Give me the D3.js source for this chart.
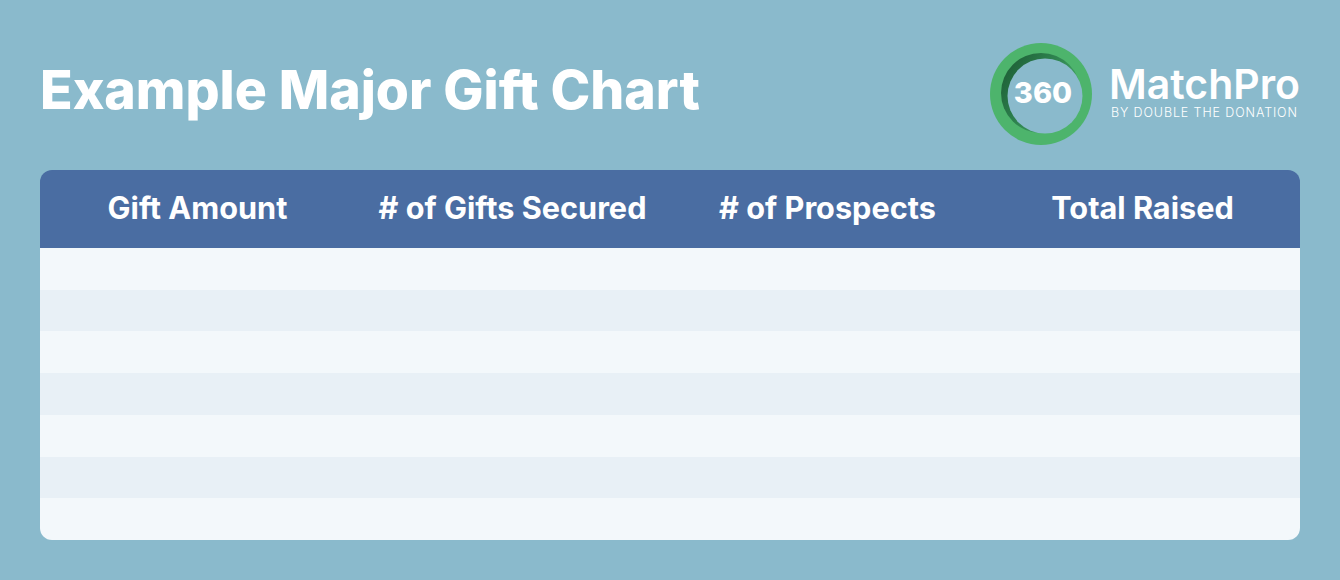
<!DOCTYPE html>
<html lang="en">
<head>
<meta charset="UTF-8">
<title>Example Major Gift Chart</title>
<script src="https://d3js.org/d3.v7.min.js"></script>
<style>
    html, body { margin: 0; padding: 0; background: #8abacc; }
    svg { display: block; }
    text { font-family: Inter, "Open Sans", sans-serif; }
</style>
</head>
<body>
<div id="chart"></div>
<script>
    // chart content
    var title = "Example Major Gift Chart"
    var columns = ["Gift Amount", "# of Gifts Secured", "# of Prospects", "Total Raised"]
    // gift rows are left blank in the template
    var giftAmounts = ["", "", "", "", "", "", ""]
    var giftsSecured = ["", "", "", "", "", "", ""]
    var prospects = ["", "", "", "", "", "", ""]
    var totalRaised = ["", "", "", "", "", "", ""]

    var rows = giftAmounts.map(function(d, i) {
        return [d, giftsSecured[i], prospects[i], totalRaised[i]]
    })

    var width = 1340, height = 580
    var tbl = { left: 40, right: 1300, top: 170, head: 248, bottom: 540 }

    var svg = d3.select("#chart").append("svg")
        .attr("width", width)
        .attr("height", height)

    svg.append("rect").attr("width", width).attr("height", height).attr("fill", "#8abacc")

    // shrink/grow a text's font size so that it spans a given width
    function fit(sel, w) {
        var fs = parseFloat(sel.attr("font-size"))
        var len = sel.node().getComputedTextLength()
        sel.attr("font-size", fs * w / len)
    }

    var t = svg.append("text")
        .attr("x", 40).attr("y", 109)
        .attr("fill", "#fff")
        .attr("font-weight", 800)
        .attr("font-size", 48)
        .text(title)
    fit(t, 660)

    // logo
    var logo = svg.append("g")
    var defs = svg.append("defs")
    var grad = defs.append("linearGradient").attr("id", "ringShade")
        .attr("x1", "0").attr("y1", "0.2").attr("x2", "1").attr("y2", "0.8")
    grad.append("stop").attr("offset", "0").attr("stop-color", "#1d5e36")
    grad.append("stop").attr("offset", "0.45").attr("stop-color", "#2f8450")
    grad.append("stop").attr("offset", "1").attr("stop-color", "#4db46c")
    logo.append("circle").attr("cx", 1041).attr("cy", 94).attr("r", 51).attr("fill", "#4db46c")
    logo.append("circle").attr("cx", 1041).attr("cy", 93).attr("r", 40).attr("fill", "url(#ringShade)")
    logo.append("circle").attr("cx", 1045).attr("cy", 96).attr("r", 37.5).attr("fill", "#8abacc")
    logo.append("text")
        .attr("x", 1043).attr("y", 103)
        .attr("text-anchor", "middle")
        .attr("fill", "#fff").attr("font-weight", 800).attr("font-size", 29)
        .text("360")
    var mp = logo.append("text")
        .attr("x", 1109).attr("y", 99)
        .attr("fill", "#fff").attr("font-weight", 600).attr("font-size", 32)
        .text("MatchPro")
    fit(mp, 191)
    logo.append("text")
        .attr("x", 1111).attr("y", 117)
        .attr("fill", "#fff").attr("font-weight", 300).attr("font-size", 12.5)
        .attr("textLength", 186).attr("lengthAdjust", "spacing")
        .text("BY DOUBLE THE DONATION")

    // table
    var x = d3.scaleBand().domain(d3.range(columns.length)).range([tbl.left, tbl.right])
    var y = d3.scaleBand().domain(d3.range(rows.length)).range([tbl.head, tbl.bottom])

    defs.append("clipPath").attr("id", "tableClip")
        .append("rect")
        .attr("x", tbl.left).attr("y", tbl.top)
        .attr("width", tbl.right - tbl.left).attr("height", tbl.bottom - tbl.top)
        .attr("rx", 12)

    var table = svg.append("g").attr("clip-path", "url(#tableClip)")

    table.append("rect")
        .attr("x", tbl.left).attr("y", tbl.top)
        .attr("width", tbl.right - tbl.left).attr("height", tbl.head - tbl.top)
        .attr("fill", "#4a6da2")
        .attr("shape-rendering", "crispEdges")

    table.selectAll(".row")
        .data(rows)
        .enter().append("rect")
        .attr("class", "row")
        .attr("x", tbl.left)
        .attr("y", function(d, i) { return Math.round(y(i)) })
        .attr("width", tbl.right - tbl.left)
        .attr("height", function(d, i) { return Math.round(y(i) + y.bandwidth()) - Math.round(y(i)) })
        .attr("fill", function(d, i) { return i % 2 ? "#e8f0f6" : "#f3f8fb" })
        .attr("shape-rendering", "crispEdges")

    var heads = svg.selectAll(".head")
        .data(columns)
        .enter().append("text")
        .attr("class", "head")
        .attr("x", function(d, i) { return x(i) + x.bandwidth() / 2 })
        .attr("y", 219)
        .attr("text-anchor", "middle")
        .attr("fill", "#fff")
        .attr("font-weight", 700)
        .attr("font-size", 28)
        .text(function(d) { return d })

    // one size for all headers, sized from the longest one
    var fs = 28 * 268 / heads.nodes()[1].getComputedTextLength()
    heads.attr("font-size", fs)
</script>
</body>
</html>
